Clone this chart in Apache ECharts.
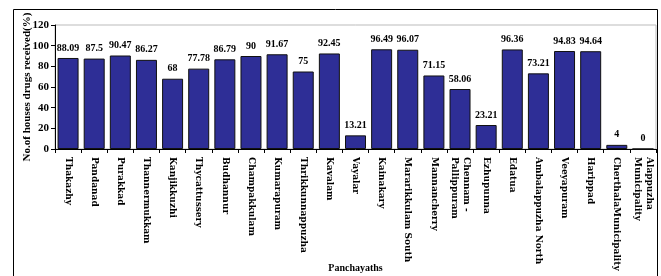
<!DOCTYPE html>
<html>
<head>
<meta charset="utf-8">
<script src="https://cdn.jsdelivr.net/npm/echarts@6/dist/echarts.min.js"></script>
<style>
  html, body { margin: 0; padding: 0; background: #fff; }
  #chart { width: 661px; height: 276px; }
</style>
</head>
<body>
<div id="chart"></div>
<script>
// panchayaths (x axis)
const panchayaths = [
  'Thakazhy', 'Pandanad', 'Purakkad', 'Thannermukkam', 'Kanjikkuzhi',
  'Thycattussery', 'Budhannur', 'Champakkulam', 'Kumarapuram', 'Thrikkunnappuzha',
  'Kavalam', 'Vayalar', 'Kainakary', 'Mararikkulam South', 'Mannancherry',
  'Chennam -\nPallippuram', 'Ezhupunna', 'Edatua', 'Ambalappuzha North', 'Veeyapuram',
  'Harippad', 'CherthalaMunicipality', 'Alappuzha\nMunicipality'
]
// % of houses drugs received
const received = [
  88.09, 87.5, 90.47, 86.27, 68,
  77.78, 86.79, 90, 91.67, 75,
  92.45, 13.21, 96.49, 96.07, 71.15,
  58.06, 23.21, 96.36, 73.21, 94.83,
  94.64, 4, 0
]
const yTicks = [0, 20, 40, 60, 80, 100, 120]

const font = 'Liberation Serif'
const chart = echarts.init(document.getElementById('chart'))
chart.setOption({
  animation: false,
  // outer frame of the figure
  graphic: [{
    type: 'rect',
    shape: { x: 13.5, y: 9.5, width: 644, height: 300 },
    style: { fill: 'none', stroke: '#000', lineWidth: 1 }
  }],
  grid: {
    left: 55, right: 5, top: 25, bottom: 127,
    outerBoundsMode: 'none',
    containLabel: false,
    show: true, borderColor: '#bbb', borderWidth: 1
  },
  xAxis: {
    type: 'category',
    data: panchayaths,
    name: 'Panchayaths',
    nameLocation: 'middle',
    nameGap: 114,
    nameMoveOverlap: false,
    nameTextStyle: { fontFamily: font, fontWeight: 'bold', fontSize: 10, color: '#000' },
    axisLine: { lineStyle: { color: '#000', width: 1 } },
    axisTick: { show: true, length: 4, lineStyle: { color: '#000' } },
    axisLabel: {
      interval: 0, rotate: -90, margin: 8,
      fontFamily: 'DejaVu Serif', fontWeight: 'bold', fontSize: 9, color: '#000', lineHeight: 12
    }
  },
  yAxis: {
    type: 'value',
    min: 0, max: 120, interval: 20,
    name: 'No.of houses drugs received(%)',
    nameLocation: 'middle',
    nameGap: 22,
    nameMoveOverlap: false,
    nameTextStyle: { fontFamily: font, fontWeight: 'bold', fontSize: 11, color: '#000' },
    axisLine: { show: true, lineStyle: { color: '#000', width: 1 } },
    axisTick: { show: true, length: 4, lineStyle: { color: '#000' } },
    axisLabel: {
      fontFamily: font, fontWeight: 'bold', fontSize: 11, color: '#000', margin: 6,
      formatter: v => yTicks.includes(v) ? String(v) : ''
    },
    splitLine: { show: false }
  },
  series: [{
    type: 'bar',
    data: received,
    barWidth: 21,
    itemStyle: { color: '#2E2E96', borderColor: '#111', borderWidth: 1 },
    label: {
      show: true, position: 'top', distance: 5,
      fontFamily: font, fontWeight: 'bold', fontSize: 10, color: '#000'
    }
  }]
})
</script>
</body>
</html>
